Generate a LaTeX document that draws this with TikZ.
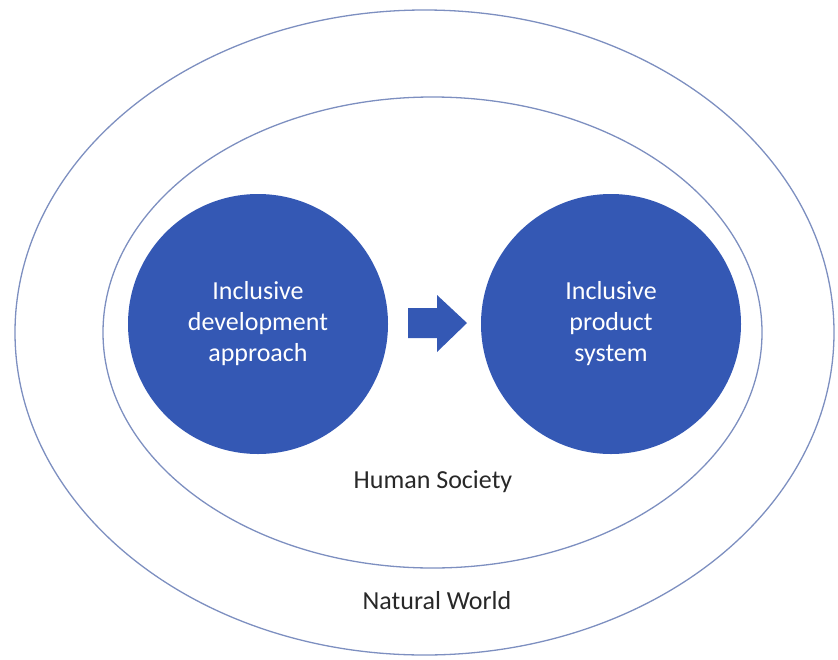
\documentclass[tikz,border=0pt]{standalone}
\usepackage{fontspec}
\setmainfont{Carlito}
\usepackage{color}
\usepackage{tikz}

\definecolor{ringblue}{RGB}{125,143,192}
\definecolor{discblue}{RGB}{52,88,180}
\definecolor{labelgrey}{RGB}{40,40,40}

\tikzset{
    disc/.style={circle, fill=discblue, minimum size=260pt, inner sep=0pt,
        text=white, align=center, font=\fontsize{26}{31}\selectfont},
    ring/.style={draw=ringblue, line width=1.3pt},
    ringlabel/.style={anchor=base, text=labelgrey, font=\fontsize{26}{31}\selectfont}
}

\begin{document}
\begin{tikzpicture}[x=1pt,y=-1pt]
        \useasboundingbox (0,0) rectangle (838,659);

        \draw [ring] (424.5,332.5) ellipse [x radius=409.5pt, y radius=322.5pt];
        \draw [ring] (432.5,332.5) ellipse [x radius=329.5pt, y radius=235.5pt];

        \node [disc] (approach) at (258,324) {Inclusive\\development\\approach};
        \node [disc] (system) at (611,324) {Inclusive\\product\\system};

        \fill [discblue] (408,308) -- (437,308) -- (437,295) -- (467,323)
            -- (437,352) -- (437,338) -- (408,338) -- cycle;

        \node [ringlabel] (society) at (433,488) {Human Society};
        \node [ringlabel] (world) at (437,609) {Natural World};
    \end{tikzpicture}
\end{document}
